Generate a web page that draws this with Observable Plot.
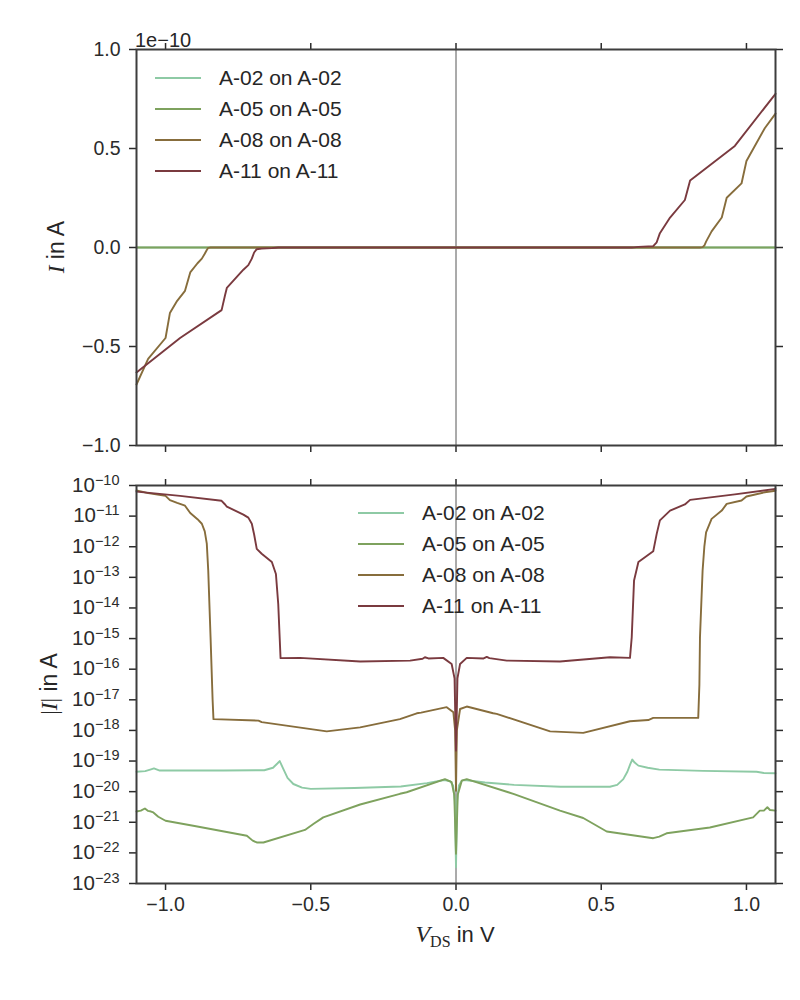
<!DOCTYPE html>
<html><head><meta charset="utf-8">
<script src="https://cdn.jsdelivr.net/npm/d3@7"></script>
<script src="https://cdn.jsdelivr.net/npm/@observablehq/plot@0.6"></script>
<style>
body{margin:0;background:#fff;}
#chart{width:800px;}
#chart svg{display:block;overflow:visible;}
</style>
</head><body><div id="chart"></div>
<script>
// ---- data (V in volts, log10 of |I| in A) ----
const seriesNames = ["A-02 on A-02", "A-05 on A-05", "A-08 on A-08", "A-11 on A-11"];
const seriesColors = ["#8ecaa5", "#7ea25e", "#876d3c", "#7a3a3f"];

const vA02 = [-1.1,-1.07,-1.05,-1.04,-1.02,-0.8,-0.66,-0.63,-0.615,-0.607,-0.595,-0.58,-0.56,-0.53,-0.5,-0.35,-0.19,-0.1,-0.04,-0.02,-0.01,-0.004,0,0.004,0.01,0.02,0.03,0.1,0.2,0.36,0.53,0.555,0.576,0.59,0.6,0.607,0.615,0.628,0.66,0.7,0.85,1.035,1.06,1.1];
const logA02 = [-19.35,-19.33,-19.27,-19.24,-19.31,-19.31,-19.30,-19.22,-19.08,-19.0,-19.25,-19.55,-19.75,-19.87,-19.91,-19.88,-19.83,-19.72,-19.62,-19.66,-19.8,-20.3,-22.47,-20.3,-19.8,-19.64,-19.62,-19.7,-19.78,-19.84,-19.84,-19.78,-19.59,-19.35,-19.1,-18.95,-19.05,-19.15,-19.22,-19.28,-19.32,-19.35,-19.39,-19.4];

const vA05 = [-1.1,-1.085,-1.071,-1.06,-1.05,-1.042,-1.025,-1.0,-0.9,-0.72,-0.7,-0.686,-0.663,-0.52,-0.49,-0.457,-0.33,-0.193,-0.17,-0.038,-0.015,-0.006,0,0.006,0.02,0.037,0.18,0.2,0.358,0.438,0.519,0.679,0.7,0.725,0.874,1.023,1.046,1.06,1.072,1.081,1.1];
const logA05 = [-20.65,-20.62,-20.55,-20.63,-20.65,-20.68,-20.82,-20.95,-21.12,-21.44,-21.6,-21.66,-21.66,-21.25,-21.05,-20.84,-20.42,-20.07,-20.02,-19.59,-19.69,-20.1,-22.03,-20.1,-19.64,-19.59,-20.02,-20.08,-20.62,-20.86,-21.3,-21.52,-21.47,-21.36,-21.17,-20.84,-20.62,-20.62,-20.51,-20.6,-20.62];

const vA08 = [-1.1,-1.06,-1.0,-0.985,-0.96,-0.933,-0.915,-0.89,-0.875,-0.865,-0.858,-0.853,-0.845,-0.838,-0.835,-0.68,-0.669,-0.445,-0.33,-0.193,-0.135,-0.12,-0.032,-0.009,-0.003,0,0.003,0.014,0.037,0.128,0.14,0.324,0.438,0.599,0.662,0.679,0.834,0.838,0.84,0.849,0.855,0.861,0.88,0.915,0.932,0.983,1.0,1.063,1.1];
const logA08 = [-10.16,-10.25,-10.34,-10.48,-10.57,-10.66,-10.9,-11.1,-11.25,-11.5,-11.9,-12.78,-14.96,-17.0,-17.63,-17.68,-17.73,-18.03,-17.9,-17.63,-17.44,-17.42,-17.24,-17.41,-18.0,-19.97,-18.0,-17.3,-17.22,-17.44,-17.46,-18.03,-18.08,-17.7,-17.66,-17.59,-17.59,-16.5,-14.96,-12.78,-12.0,-11.53,-11.09,-10.82,-10.6,-10.49,-10.36,-10.22,-10.17];

const vA11 = [-1.1,-0.95,-0.807,-0.795,-0.789,-0.732,-0.715,-0.703,-0.695,-0.686,-0.669,-0.634,-0.62,-0.612,-0.604,-0.537,-0.33,-0.158,-0.115,-0.107,-0.095,-0.044,-0.015,-0.005,0,0.005,0.014,0.037,0.095,0.106,0.115,0.175,0.358,0.53,0.599,0.605,0.613,0.628,0.679,0.691,0.702,0.737,0.788,0.806,0.96,1.1];
const logA11 = [-10.2,-10.34,-10.5,-10.62,-10.69,-10.95,-11.05,-11.25,-11.6,-12.07,-12.23,-12.5,-12.89,-13.87,-15.64,-15.63,-15.75,-15.72,-15.66,-15.61,-15.65,-15.63,-15.83,-16.3,-18.66,-16.3,-15.83,-15.63,-15.65,-15.6,-15.64,-15.72,-15.75,-15.61,-15.63,-14.96,-13.1,-12.5,-12.15,-11.58,-11.14,-10.82,-10.62,-10.47,-10.29,-10.11];

const xTicks = [-1.0, -0.5, 0.0, 0.5, 1.0];
const yTicksLin = [-1.0, -0.5, 0.0, 0.5, 1.0];
const yExpTicks = [-10,-11,-12,-13,-14,-15,-16,-17,-18,-19,-20,-21,-22,-23];

// ---- build table ----
const vs = [vA02, vA05, vA08, vA11];
const logs = [logA02, logA05, logA08, logA11];
const rows = [];
seriesNames.forEach((name, k) => {
  vs[k].forEach((v, i) => {
    const absI = Math.pow(10, logs[k][i]);
    rows.push({series: name, V: v, absI, Iscaled: Math.sign(v) * absI / 1e-10});
  });
});

const fmt1 = d => d.toFixed(1).replace("-", "\u2212");
const blank = () => "";
const axisCol = "#2b2b2b";
const style = {fontFamily: "'Liberation Sans', Arial, sans-serif", fontSize: "19.5px", color: axisCol, background: "white", overflow: "visible"};
const colorScale = {domain: seriesNames, range: seriesColors};
const LW = 1.9;

// ---- top panel (linear) ----
const topSvg = Plot.plot({
  width: 800, height: 465,
  marginLeft: 136, marginRight: 25, marginTop: 49, marginBottom: 20,
  x: {domain: [-1.1, 1.1]},
  y: {domain: [-1, 1]},
  color: colorScale,
  style,
  marks: [
    Plot.ruleX([0], {stroke: "#444", strokeWidth: 0.9}),
    Plot.line(rows, {x: "V", y: "Iscaled", z: "series", stroke: "series", strokeWidth: LW, strokeLinejoin: "round"}),
    Plot.axisX({anchor: "bottom", ticks: xTicks, tickFormat: blank, tickSize: 7, strokeWidth: 1.5, label: null}),
    Plot.axisX({anchor: "top", ticks: xTicks, tickFormat: blank, tickSize: 7, strokeWidth: 1.5, label: null}),
    Plot.axisY({anchor: "left", ticks: yTicksLin, tickFormat: fmt1, tickSize: 7, tickPadding: 9, strokeWidth: 1.5, label: null}),
    Plot.axisY({anchor: "right", ticks: yTicksLin, tickFormat: blank, tickSize: 7, strokeWidth: 1.5, label: null}),
    Plot.frame({stroke: "#3d3d3d", strokeWidth: 2})
  ]
});

// ---- bottom panel (log) ----
const botSvg = Plot.plot({
  width: 800, height: 498,
  marginLeft: 136, marginRight: 25, marginTop: 20, marginBottom: 80,
  x: {domain: [-1.1, 1.1]},
  y: {type: "log", domain: [1e-23, 1e-10]},
  color: colorScale,
  style,
  marks: [
    Plot.ruleX([0], {stroke: "#444", strokeWidth: 0.9}),
    Plot.line(rows, {x: "V", y: "absI", z: "series", stroke: "series", strokeWidth: LW, strokeLinejoin: "round"}),
    Plot.axisX({anchor: "bottom", ticks: xTicks, tickFormat: fmt1, tickSize: 7, tickPadding: 7, strokeWidth: 1.5, label: null}),
    Plot.axisX({anchor: "top", ticks: xTicks, tickFormat: blank, tickSize: 7, strokeWidth: 1.5, label: null}),
    Plot.axisY({anchor: "left", ticks: yExpTicks.map(e => Math.pow(10, e)), tickFormat: d => "10^" + Math.round(Math.log10(d)), tickSize: 7, tickPadding: 10, strokeWidth: 1.5, label: null}),
    Plot.axisY({anchor: "right", ticks: yExpTicks.map(e => Math.pow(10, e)), tickFormat: blank, tickSize: 7, strokeWidth: 1.5, label: null}),
    Plot.frame({stroke: "#3d3d3d", strokeWidth: 2})
  ]
});

// superscripts for log tick labels
d3.select(botSvg).selectAll('g[aria-label="y-axis tick label"] text').each(function () {
  const t = d3.select(this);
  const s = t.text();
  if (!s.includes("^")) return;
  const [b, e] = s.split("^");
  t.text(null);
  t.append("tspan").attr("font-size", "20.5px").text(b);
  t.append("tspan").attr("dy", "-0.5em").attr("font-size", "14.5px").text(e.replace("-", "\u2212"));
});

const serif = "'Liberation Serif', 'DejaVu Serif', serif";
const textCol = "#262626";

// offset text
d3.select(topSvg).append("text").attr("x", 135).attr("y", 46.5).attr("text-anchor", "start")
  .attr("font-size", "20px").attr("fill", textCol).text("1e\u221210");

// y labels
{
  const t = d3.select(topSvg).append("text").attr("transform", "translate(64,247) rotate(-90)")
    .attr("text-anchor", "middle").attr("font-size", "23px").attr("fill", textCol);
  t.append("tspan").attr("font-family", serif).attr("font-style", "italic").text("I");
  t.append("tspan").text(" in A");
}
{
  const t = d3.select(botSvg).append("text").attr("transform", "translate(57,219) rotate(-90)")
    .attr("text-anchor", "middle").attr("font-size", "23px").attr("fill", textCol);
  t.append("tspan").attr("font-family", serif).text("|");
  t.append("tspan").attr("font-family", serif).attr("font-style", "italic").text("I");
  t.append("tspan").attr("font-family", serif).text("|");
  t.append("tspan").text(" in A");
}
// x label
{
  const t = d3.select(botSvg).append("text").attr("x", 455).attr("y", 477)
    .attr("text-anchor", "middle").attr("font-size", "22px").attr("fill", textCol);
  t.append("tspan").attr("font-family", serif).attr("font-style", "italic").attr("font-size", "24px").text("V");
  t.append("tspan").attr("font-family", serif).attr("font-size", "16px").attr("dy", "5").text("DS");
  t.append("tspan").attr("dy", "-5").text(" in V");
}

// legends
function legend(svg, x0, y0, gap) {
  const g = d3.select(svg).append("g");
  seriesNames.forEach((n, i) => {
    const y = y0 + i * gap;
    g.append("line").attr("x1", x0).attr("x2", x0 + 46).attr("y1", y).attr("y2", y)
      .attr("stroke", seriesColors[i]).attr("stroke-width", LW);
    g.append("text").attr("x", x0 + 64).attr("y", y + 7).attr("text-anchor", "start")
      .attr("font-size", "21px").attr("fill", textCol).text(n);
  });
}
legend(topSvg, 155, 78, 31);
legend(botSvg, 358, 48, 31);

document.getElementById("chart").append(topSvg, botSvg);
</script>
</body></html>
